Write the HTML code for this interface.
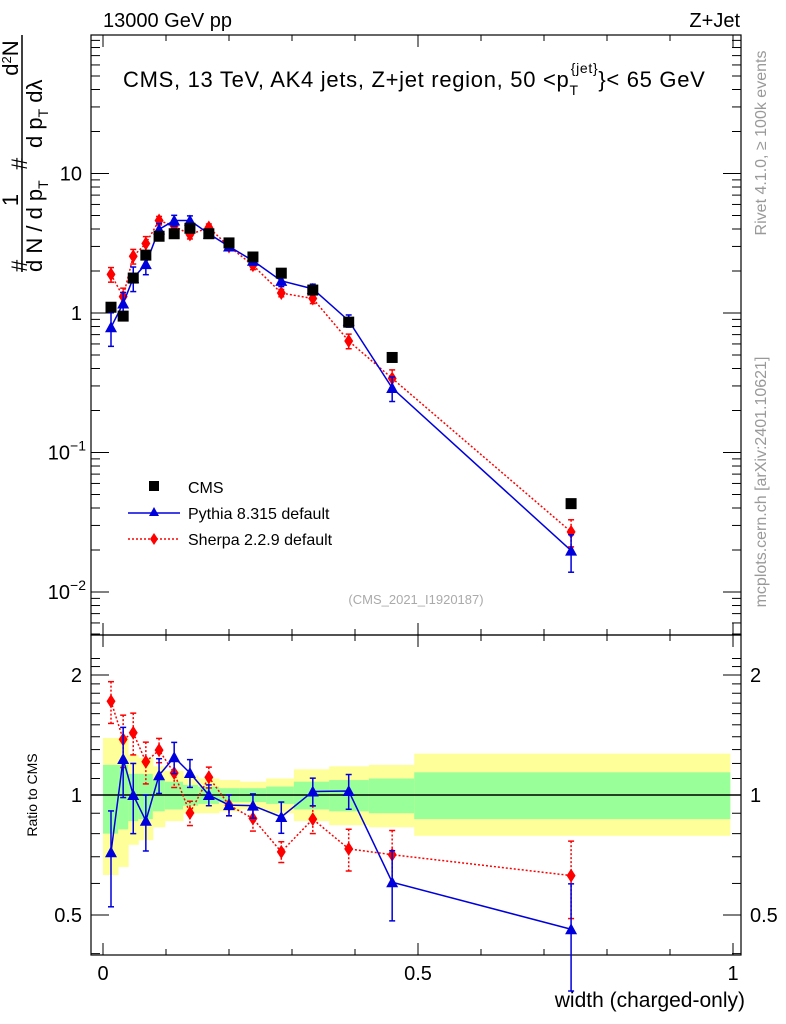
<!DOCTYPE html>
<html><head><meta charset="utf-8"><style>
body{margin:0;background:#fff;width:786px;height:1024px;overflow:hidden;font-family:"Liberation Sans",sans-serif;}
svg{display:block}
text{font-family:"Liberation Sans",sans-serif;}
</style></head><body>
<svg id="c" width="786" height="1024" xmlns="http://www.w3.org/2000/svg">
<text x="103" y="27" font-size="20">13000 GeV pp</text>
<text x="740" y="27" font-size="20" text-anchor="end">Z+Jet</text>
<text x="123" y="87" font-size="22" letter-spacing="0.7">CMS, 13 TeV, AK4 jets, Z+jet region, 50 &lt;p<tspan font-size="14" dy="8">T</tspan><tspan font-size="14" dy="-22" dx="-8">{jet}</tspan><tspan dy="14">}&lt; 65 GeV</tspan></text>
<text x="416" y="604" font-size="13" fill="#aaa" text-anchor="middle">(CMS_2021_I1920187)</text>
<text transform="translate(766,143) rotate(-90)" font-size="16" fill="#999" text-anchor="middle">Rivet 4.1.0, ≥ 100k events</text>
<text transform="translate(766,482) rotate(-90)" font-size="16" fill="#999" text-anchor="middle">mcplots.cern.ch [arXiv:2401.10621]</text>
<g font-size="22">
<text transform="translate(27,272) rotate(-90)">#</text>
<text transform="translate(18,200) rotate(-90)" text-anchor="middle">1</text>
<line x1="22" y1="272" x2="22" y2="148" stroke="#000" stroke-width="1.5"/>
<text transform="translate(42,272) rotate(-90)">d N / d p<tspan font-size="14" dy="6">T</tspan></text>
<text transform="translate(27,170) rotate(-90)">#</text>
<text transform="translate(18,58) rotate(-90)" text-anchor="middle">d<tspan font-size="13" dy="-7">2</tspan><tspan dy="7">N</tspan></text>
<line x1="22" y1="148" x2="22" y2="35" stroke="#000" stroke-width="1.5"/>
<text transform="translate(42,148) rotate(-90)">d p<tspan font-size="14" dy="6">T</tspan><tspan dy="-6"> dλ</tspan></text>
</g>
<text transform="translate(37,795) rotate(-90)" font-size="14" text-anchor="middle">Ratio to CMS</text>
<text x="745" y="1007" font-size="21" text-anchor="end">width (charged-only)</text>
<g font-size="16">
<rect x="149" y="481" width="10" height="10" fill="#000"/>
<text x="188" y="493">CMS</text>
<line x1="128" y1="513" x2="180" y2="513" stroke="#0000dd" stroke-width="1.5"/>
<polygon points="154,507 159,516 149,516" fill="#0000dd"/>
<text x="188" y="519">Pythia 8.315 default</text>
<line x1="128" y1="539" x2="180" y2="539" stroke="#ff0000" stroke-width="1.5" stroke-dasharray="2,2"/>
<polygon points="154,533 158,539 154,545 150,539" fill="#ff0000"/>
<text x="188" y="545">Sherpa 2.2.9 default</text>
</g>
</svg>
<script>
const xs=[0.0127,0.032,0.048,0.068,0.089,0.113,0.138,0.168,0.2,0.238,0.283,0.333,0.39,0.459,0.743];
const edges=[0,0.024,0.04,0.056,0.079,0.098,0.127,0.151,0.184,0.217,0.259,0.303,0.359,0.422,0.494,0.995];
const cms=[1.1,0.95,1.78,2.6,3.55,3.7,4.05,3.7,3.18,2.52,1.93,1.46,0.86,0.48,0.043];
const pythia=[0.79,1.17,1.78,2.24,3.98,4.6,4.6,3.7,3.0,2.37,1.7,1.49,0.88,0.29,0.0198];
const pythiaErr=[0.27,0.2,0.2,0.16,0.1,0.09,0.08,0.06,0.06,0.07,0.09,0.08,0.1,0.2,0.3];
const sherpa=[1.89,1.31,2.55,3.15,4.6,4.2,3.65,4.1,3.0,2.2,1.39,1.27,0.63,0.34,0.027];
const sherpaErr=[0.12,0.15,0.12,0.12,0.07,0.08,0.07,0.06,0.06,0.07,0.06,0.08,0.12,0.15,0.22];
const greenUp=[1.19,1.19,1.13,1.13,1.09,1.08,1.06,1.05,1.04,1.04,1.05,1.08,1.09,1.1,1.14];
const greenDn=[0.8,0.82,0.86,0.87,0.91,0.92,0.94,0.95,0.96,0.96,0.95,0.92,0.91,0.9,0.87];
const yellowUp=[1.39,1.39,1.26,1.24,1.18,1.15,1.12,1.1,1.09,1.08,1.1,1.16,1.18,1.19,1.27];
const yellowDn=[0.63,0.66,0.75,0.77,0.83,0.86,0.9,0.9,0.91,0.92,0.9,0.86,0.84,0.83,0.79];
const xTicks=[0,0.5,1];const yTicks=[0.01,0.1,1,10];const rTicks=[0.5,1,2];

const NS="http://www.w3.org/2000/svg",svg=document.getElementById('c');
const X=v=>103+630*v;
const Y=v=>313-139.5*Math.log10(v);
const R=v=>795-120*Math.log2(v);
function el(t,a,p){const e=document.createElementNS(NS,t);for(const k in a)e.setAttribute(k,a[k]);(p||svg).appendChild(e);return e;}
const bands=el('g',{});


for(let i=0;i<xs.length;i++){
 const y=el('rect',{x:X(edges[i]),y:R(yellowUp[i]),width:X(edges[i+1])-X(edges[i])+0.5,height:R(yellowDn[i])-R(yellowUp[i]),fill:'#ffff99'},bands);
 
 
 const g=el('rect',{x:X(edges[i]),y:R(greenUp[i]),width:X(edges[i+1])-X(edges[i])+0.5,height:R(greenDn[i])-R(greenUp[i]),fill:'#99ff99'},bands);
 
 
}
const one=el('line',{x1:91,x2:741,y1:R(1),y2:R(1),stroke:'#000','stroke-width':1.5});


for(const [y0,y1,n] of [[35,635,'main-frame'],[635,955,'ratio-frame']]){
 const f=el('rect',{x:91,y:y0,width:650,height:y1-y0,fill:'none',stroke:'#000','stroke-width':1.2});
 
 
}
for(const t of xTicks){for(const [yb,yt] of [[635,623],[35,47],[955,943],[635,647]])el('line',{x1:X(t),x2:X(t),y1:yb,y2:yt,stroke:'#000'});
 const tx=el('text',{x:X(t),y:980,'font-size':20,'text-anchor':'middle'});tx.textContent=t;
 
 }
for(let t=0.1;t<1;t+=0.1){if(Math.abs(t-0.5)<0.01)continue;for(const [yb,yt] of [[635,629],[35,41],[955,949],[635,641]])el('line',{x1:X(t),x2:X(t),y1:yb,y2:yt,stroke:'#000'});}
for(let d=-3;d<2;d++)for(let m=1;m<10;m++){const v=m*Math.pow(10,d),y=Y(v);if(y<35||y>635)continue;const L=m==1?18:9;
 el('line',{x1:91,x2:91+L,y1:y,y2:y,stroke:'#000'});el('line',{x1:741,x2:741-L,y1:y,y2:y,stroke:'#000'});}
for(const t of yTicks){const y=Y(t);const tx=el('text',{x:82,y:y+7,'font-size':20,'text-anchor':'end'});
 if(t>=1)tx.textContent=t;else{tx.textContent='10';const s=el('tspan',{'font-size':14,dy:-9},tx);s.textContent='−'+Math.round(-Math.log10(t));tx.setAttribute('x',86);}
 
 }
for(let v=0.4;v<=2.3;v+=0.1){const y=R(v);if(y<635||y>955)continue;const maj=rTicks.some(t=>Math.abs(t-v)<1e-6);const L=maj?18:9;
 el('line',{x1:91,x2:91+L,y1:y,y2:y,stroke:'#000'});el('line',{x1:741,x2:741-L,y1:y,y2:y,stroke:'#000'});}
for(const t of rTicks){for(const [x,a] of [[82,'end'],[750,'start']]){const tx=el('text',{x:x,y:R(t)+7,'font-size':20,'text-anchor':a});tx.textContent=t;
 
 }}
function series(vals,errs,color,dash,marker,Yf,name){
 const g=el('g',{});
 
 
 const pts=vals.map((v,i)=>X(xs[i])+','+Yf(v,i)).join(' ');
 el('polyline',{points:pts,fill:'none',stroke:color,'stroke-width':1.5,'stroke-dasharray':dash},g);
 vals.forEach((v,i)=>{const x=X(xs[i]),y=Yf(v,i),y1=Yf(v*(1+errs[i]),i),y2=Yf(v*(1-errs[i]),i);
  el('line',{x1:x,x2:x,y1:y1,y2:y2,stroke:color,'stroke-width':1.5,'stroke-dasharray':dash},g);
  el('line',{x1:x-3,x2:x+3,y1:y1,y2:y1,stroke:color,'stroke-width':1.5},g);el('line',{x1:x-3,x2:x+3,y1:y2,y2:y2,stroke:color,'stroke-width':1.5},g);
  let m;
  if(marker=='tri')m=el('polygon',{points:`${x},${y-6} ${x+6},${y+5} ${x-6},${y+5}`,fill:color},g);
  else m=el('polygon',{points:`${x},${y-7} ${x+4.5},${y} ${x},${y+7} ${x-4.5},${y}`,fill:color},g);
  
  
 });
}
series(sherpa,sherpaErr,'#ff0000','2,2','dia',v=>Y(v),'sherpa-series');
series(pythia,pythiaErr,'#0000dd','none','tri',v=>Y(v),'pythia-series');
cms.forEach((v,i)=>{const r=el('rect',{x:X(xs[i])-5.5,y:Y(v)-5.5,width:11,height:11,fill:'#000'});
 
 });
series(sherpa,sherpaErr,'#ff0000','2,2','dia',(v,i)=>R(v/cms[i]),'sherpa-ratio');
series(pythia,pythiaErr,'#0000dd','none','tri',(v,i)=>R(v/cms[i]),'pythia-ratio');
</script>
</body></html>
